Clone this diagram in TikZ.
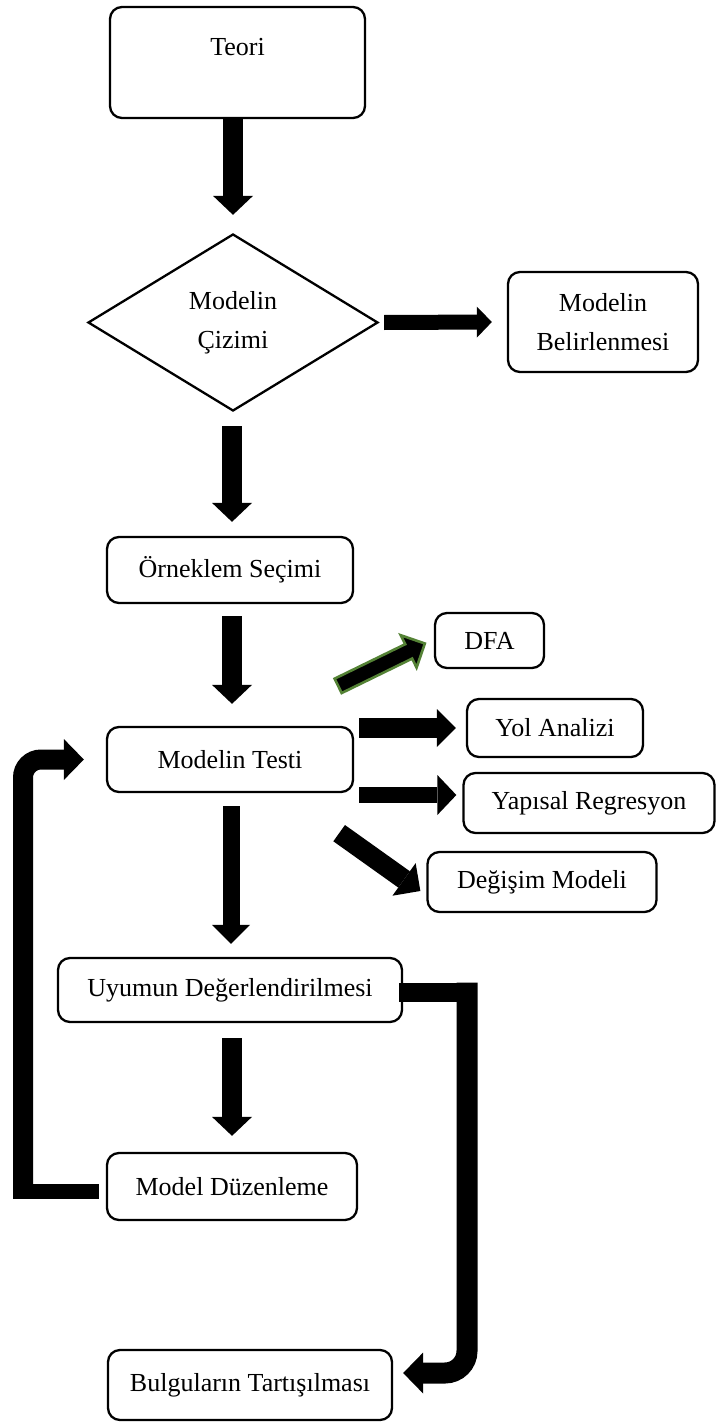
\documentclass[tikz,border=0pt]{standalone}
\usepackage{fontspec}
\setmainfont{Liberation Serif}
\usetikzlibrary{shapes.geometric,arrows.meta,calc}
\definecolor{leaf}{HTML}{548235}
\begin{document}
\begin{tikzpicture}[x=1pt,y=-1pt,
  txt/.style={font=\fontsize{26}{39}\selectfont, align=center, inner sep=0pt},
  box/.style={txt, draw, line width=2.3pt, rounded corners=12pt},
  fat/.style n args={3}{line width=#1, line cap=butt,
    -{Triangle[width=#2, length=#3, line width=0pt]}},
  bar/.style={line width=#1, line cap=butt}]
\useasboundingbox (0,0) rectangle (716,1423);

% boxes
\node[box, minimum width=255pt, minimum height=111pt] (teori) at (237.5,62.5) {\raisebox{7pt}[0pt][0pt]{Teori}};
\node[txt, draw, line width=2.3pt, diamond, aspect=1.64, minimum width=290pt, minimum height=177pt] (dmd) at (233,322.5) {Modelin\\Çizimi};
\node[box, minimum width=190pt, minimum height=100pt] (belirl) at (603,322) {Modelin\\Belirlenmesi};
\node[box, minimum width=246pt, minimum height=66pt] (ornek) at (230,570) {Örneklem Seçimi};
\node[box, minimum width=109pt, minimum height=55pt] (dfa) at (489.5,640.5) {DFA};
\node[box, minimum width=246pt, minimum height=65pt] (testi) at (230,759.5) {Modelin Testi};
\node[box, minimum width=176pt, minimum height=58pt] (yol) at (555,728) {Yol Analizi};
\node[box, minimum width=251pt, minimum height=60pt] (yapisal) at (589,803) {Yapısal Regresyon};
\node[box, minimum width=229pt, minimum height=60pt] (degisim) at (542,882) {Değişim Modeli};
\node[box, minimum width=344pt, minimum height=64pt] (uyum) at (230,990) {Uyumun Değerlendirilmesi};
\node[box, minimum width=250pt, minimum height=67pt] (duzen) at (232,1186.5) {Model Düzenleme};
\node[box, minimum width=284pt, minimum height=70pt] (bulgu) at (250,1385) {Bulguların Tartışılması};

% main vertical flow
\draw[fat={20pt}{40pt}{19pt}] (dmd.north |- teori.south) -- ($(dmd.north)+(0,-18)$);
\draw[fat={20pt}{40pt}{19pt}] ($(dmd.south)+(-1,14)$) -- ($(dmd.south |- ornek.north)+(-1,-14)$);
\draw[fat={20pt}{40pt}{19pt}] ($(ornek.south)+(2,12)$) -- ($(testi.north)+(2,-22)$);
\draw[fat={17pt}{38pt}{19pt}] ($(testi.south)+(1,13)$) -- ($(uyum.north)+(1,-13)$);
\draw[fat={20pt}{40pt}{19pt}] ($(uyum.south)+(2,15)$) -- ($(duzen.north)+(0,-16)$);

% side branches
\draw[fat={15pt}{31pt}{15pt}] ($(dmd.east)+(5,0)$) -- ($(belirl.west)+(-15,0)$);
\draw[fat={20pt}{38pt}{19pt}] ($(testi.east |- yol.west)+(5,0)$) -- ($(yol.west)+(-10,0)$);
\draw[fat={16pt}{40pt}{19pt}] ($(testi.east)+(5,35.5)$) -- ($(yapisal.west)+(-6,-8)$);
\draw[fat={20pt}{40pt}{20pt}] ($(testi.south east)+(-15,40)$) -- ($(degisim.west)+(-6,9)$);

% outlined arrow towards DFA
\coordinate (dA) at ($(testi.north east)+(-16,-40)$);
\coordinate (dB) at ($(dfa.west)+(-9,3)$);
\coordinate (dH) at ($(dB)!18pt!(dA)$);
\draw[leaf, line width=2.6pt, fill=black, line join=miter]
  ($(dA)!8pt!90:(dB)$) -- ($(dH)!8pt!90:(dB)$) -- ($(dH)!18pt!90:(dB)$) -- (dB)
  -- ($(dH)!18pt!-90:(dB)$) -- ($(dH)!8pt!-90:(dB)$) -- ($(dA)!8pt!-90:(dB)$) -- cycle;

% feedback loop back to the model test
\coordinate (lc) at (23,1191);
\draw[bar=15pt] ($(duzen.west)+(-7,4.5)$) -- ($(lc)+(-10,0)$);
\draw[fat={20pt}{41pt}{20pt}, rounded corners=18pt] ($(lc)+(0,7.5)$) -- (lc |- testi.west) -- ($(testi.west)+(-22,0)$);

% path from fit evaluation to the discussion of findings
\coordinate (rc) at (467,992);
\coordinate (rb) at (467,1373);
\draw[bar=19pt] ($(uyum.east)+(-4,2)$) -- ($(rc)+(10,0)$);
\draw[fat={21pt}{41pt}{20pt}, rounded corners=22pt] ($(rc)+(0,-9.5)$) -- (rb) -- ($(bulgu.east)+(10,-12)$);
\end{tikzpicture}
\end{document}
